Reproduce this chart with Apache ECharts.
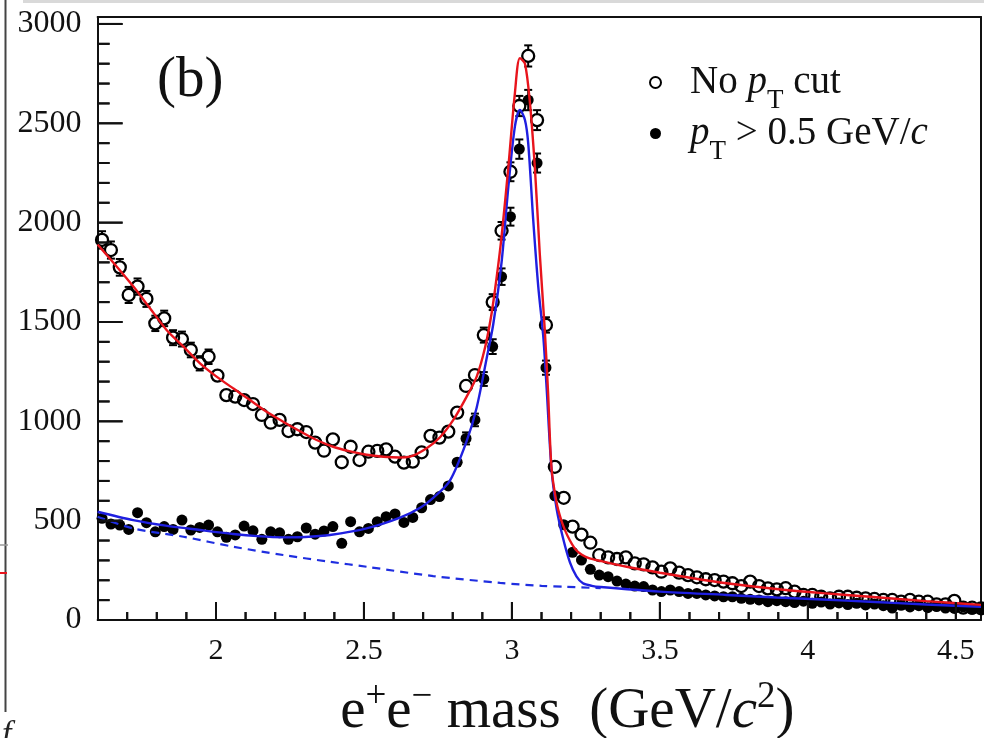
<!DOCTYPE html>
<html>
<head>
<meta charset="utf-8">
<script src="https://cdn.jsdelivr.net/npm/echarts@6/dist/echarts.min.js"></script>
<style>
  html, body { margin: 0; padding: 0; background: #ffffff; }
  #chart { width: 984px; height: 738px; background: #ffffff; }
</style>
</head>
<body>
<div id="chart"></div>
<script>
// Histogram binning of the e+e- invariant mass (GeV/c^2)
const binLow = 1.6;
const binWidth = 0.03;
const massMin = 1.6;
const massMax = 4.585;
const countMax = 3035;

// Counts per bin, no pT cut (open circles)
const openCounts = [
  1913, 1862, 1775, 1636, 1678, 1616, 1493, 1518, 1421, 1414,
  1359, 1292, 1325, 1230, 1132, 1124, 1107, 1087, 1032, 993,
  1007, 951, 960, 946, 893, 852, 909, 794, 872, 805,
  847, 851, 859, 822, 792, 797, 844, 927, 918, 948,
  1044, 1178, 1233, 1434, 1600, 1959, 2256, 2587, 2839, 2516,
  1485, 771, 615, 470, 430, 389, 327, 315, 307, 315,
  285, 280, 265, 243, 260, 238, 226, 215, 205, 201,
  193, 185, 171, 193, 171, 159, 154, 160, 143, 126,
  126, 117, 109, 117, 117, 112, 109, 106, 101, 101,
  92, 101, 92, 92, 79, 79, 96, 62, 62, 59
];

// Counts per bin, pT > 0.5 GeV/c (filled circles)
const filledCounts = [
  512, 483, 478, 456, 540, 490, 444, 470, 456, 503,
  453, 466, 478, 444, 416, 428, 473, 449, 406, 444,
  439, 406, 419, 463, 432, 448, 470, 386, 495, 444,
  461, 495, 520, 534, 491, 516, 565, 606, 621, 675,
  794, 914, 1007, 1213, 1376, 1728, 2030, 2370, 2617, 2300,
  1270, 625, 480, 341, 302, 255, 226, 218, 196, 181,
  171, 168, 151, 143, 151, 143, 134, 134, 126, 121,
  117, 117, 109, 104, 101, 92, 97, 92, 88, 95,
  84, 90, 80, 86, 78, 84, 76, 80, 72, 60,
  74, 66, 72, 62, 68, 60, 58, 66, 54, 60
];

// Fit to the no-cut spectrum (red)
const fitAllMass = [1.6, 1.665, 1.721, 1.777, 1.833, 1.89, 1.946, 2.002, 2.058, 2.115,
  2.171, 2.227, 2.284, 2.34, 2.396, 2.45, 2.509, 2.565, 2.62, 2.655, 2.712, 2.757,
  2.802, 2.847, 2.881, 2.909, 2.931, 2.948, 2.965, 2.988, 3.01, 3.027, 3.044, 3.061,
  3.078, 3.094, 3.111, 3.122, 3.134, 3.151, 3.165, 3.18, 3.196, 3.215, 3.235, 3.26,
  3.3, 3.388, 3.5, 3.612, 3.725, 3.894, 4.05, 4.21, 4.4, 4.585];
const fitAllCounts = [1890, 1778, 1678, 1569, 1460, 1376, 1292, 1225, 1166, 1107,
  1048, 998, 950, 906, 872, 850, 832, 822, 818, 822, 865, 920,
  1007, 1124, 1225, 1370, 1540, 1720, 1930, 2281, 2651, 2828, 2801, 2600,
  2265, 1846, 1460, 1150, 760, 590, 510, 450, 400, 355, 330, 312,
  297, 268, 238, 210, 185, 156, 135, 117, 95, 76];

// Fit to the pT-cut spectrum (blue)
const fitCutMass = [1.6, 1.72, 1.83, 1.946, 2.058, 2.14, 2.227, 2.3, 2.385, 2.509,
  2.622, 2.69, 2.734, 2.79, 2.847, 2.881, 2.915, 2.937, 2.965, 2.988, 3.01, 3.027,
  3.044, 3.055, 3.072, 3.089, 3.106, 3.117, 3.134, 3.151, 3.173, 3.196, 3.218, 3.24,
  3.27, 3.3, 3.5, 3.725, 3.894, 4.05, 4.21, 4.4, 4.585];
const fitCutCounts = [545, 503, 475, 453, 433, 422, 416, 418, 428, 461,
  515, 565, 615, 700, 900, 1070, 1320, 1490, 1800, 2181, 2483, 2567,
  2517, 2400, 2013, 1678, 1426, 1174, 755, 560, 410, 290, 220, 185,
  172, 166, 143, 126, 113, 103, 92, 78, 67];

// Background component of the pT-cut fit (blue dashed)
const bkgMass = [1.6, 1.72, 1.89, 2.058, 2.227, 2.385, 2.509, 2.734, 2.96, 3.1, 3.185, 3.3];
const bkgCounts = [520, 461, 419, 369, 327, 293, 268, 221, 187, 172, 167, 160];

// Axis ticks
const xMajorTicks = [2, 2.5, 3, 3.5, 4, 4.5];
const xMinorTicks = [1.7, 1.8, 1.9, 2.1, 2.2, 2.3, 2.4, 2.6, 2.7, 2.8, 2.9, 3.1, 3.2, 3.3, 3.4,
  3.6, 3.7, 3.8, 3.9, 4.1, 4.2, 4.3, 4.4];
const yMajorTicks = [0, 500, 1000, 1500, 2000, 2500, 3000];
const yMinorTicks = [100, 200, 300, 400, 600, 700, 800, 900, 1100, 1200, 1300, 1400,
  1600, 1700, 1800, 1900, 2100, 2200, 2300, 2400, 2600, 2700, 2800, 2900];

const seriesOpenName = 'No pT cut';
const seriesCutName = 'pT > 0.5 GeV/c';

const serif = '"Liberation Serif", "Times New Roman", serif';
const ink = '#111';

function binned(counts) {
  return counts.map((v, i) => [binLow + binWidth * (i + 0.5), v]);
}
function paired(xs, ys) {
  return xs.map((x, i) => [x, ys[i]]);
}

// Poisson error bars, drawn only outside the marker
function errorBars(radius) {
  return function (params, api) {
    const x = api.value(0);
    const v = api.value(1);
    const e = Math.sqrt(v);
    const c = api.coord([x, v]);
    const hi = api.coord([x, v + e]);
    const lo = api.coord([x, v - e]);
    const st = { stroke: '#000', lineWidth: 2 };
    const kids = [];
    if (c[1] - hi[1] > radius + 1) {
      kids.push({ type: 'line', shape: { x1: c[0], y1: hi[1], x2: c[0], y2: c[1] - radius }, style: st });
      kids.push({ type: 'line', shape: { x1: c[0] - 4, y1: hi[1], x2: c[0] + 4, y2: hi[1] }, style: st });
    }
    if (lo[1] - c[1] > radius + 1) {
      kids.push({ type: 'line', shape: { x1: c[0], y1: c[1] + radius, x2: c[0], y2: lo[1] }, style: st });
      kids.push({ type: 'line', shape: { x1: c[0] - 4, y1: lo[1], x2: c[0] + 4, y2: lo[1] }, style: st });
    }
    return { type: 'group', children: kids };
  };
}

// All inward ROOT-style ticks of the left and bottom frame, drawn as one item
function frameTicks(params, api) {
  const st = { stroke: ink, lineWidth: 2 };
  const kids = [];
  const addX = (values, len) => values.forEach(v => {
    const p = api.coord([v, 0]);
    kids.push({ type: 'line', shape: { x1: p[0], y1: p[1], x2: p[0], y2: p[1] - len }, style: st });
  });
  const addY = (values, len) => values.forEach(v => {
    const p = api.coord([massMin, v]);
    kids.push({ type: 'line', shape: { x1: p[0], y1: p[1], x2: p[0] + len, y2: p[1] }, style: st });
  });
  addX(xMajorTicks, 18);
  addX(xMinorTicks, 8);
  addY(yMajorTicks, 25);
  addY(yMinorTicks, 12);
  return { type: 'group', children: kids };
}

const chart = echarts.init(document.getElementById('chart'), null, { renderer: 'canvas' });

const legendText = {};
legendText[seriesOpenName] = '{g|}{n|No }{i|p}{s|T}{n| cut}';
legendText[seriesCutName] = '{g|}{i|p}{s|T}{n| > 0.5 GeV/}{i|c}';

const nameRich = {
  n: { fontFamily: serif, fontSize: 57, lineHeight: 60, color: ink },
  it: { fontFamily: serif, fontSize: 57, lineHeight: 60, fontStyle: 'italic', color: ink },
  sup: { fontFamily: serif, fontSize: 37, lineHeight: 4, height: 30, verticalAlign: 'top', color: ink }
};

const frameLine = { show: true, onZero: false, lineStyle: { color: ink, width: 2 } };

// Neighbouring panel edge
const panelEdge = [
  { id: 'edgeTop', type: 'rect', shape: { x: 23, y: 0, width: 961, height: 3 }, style: { fill: '#d9d9d9' }, silent: true },
  { id: 'edgeLeft', type: 'line', shape: { x1: 5.5, y1: 0, x2: 5.5, y2: 712 }, style: { stroke: '#444', lineWidth: 2 }, silent: true },
  { id: 'edgeGrey', type: 'line', shape: { x1: 0, y1: 545, x2: 8, y2: 545 }, style: { stroke: '#9a9a9a', lineWidth: 1.5 }, silent: true },
  { id: 'edgeRed', type: 'line', shape: { x1: 0, y1: 573, x2: 7, y2: 573 }, style: { stroke: '#e8141c', lineWidth: 2 }, silent: true },
  { id: 'edgeText', type: 'text', left: 2, top: 718, style: { text: 'f', font: 'italic 34px ' + serif, fill: '#222' }, silent: true }
];

chart.setOption({
  animation: false,
  title: {
    text: '(b)',
    left: 152,
    top: 48,
    textStyle: { fontFamily: serif, fontSize: 57, fontWeight: 'normal', color: ink }
  },
  legend: {
    orient: 'vertical',
    left: 644,
    top: 58,
    itemWidth: 11,
    itemHeight: 11,
    itemGap: 0,
    selectedMode: false,
    data: [
      { name: seriesOpenName, icon: 'circle', itemStyle: { color: '#fff', borderColor: '#000', borderWidth: 2 } },
      { name: seriesCutName, icon: 'circle', itemStyle: { color: '#000' } }
    ],
    formatter: name => legendText[name],
    textStyle: {
      fontFamily: serif, fontSize: 39, color: ink,
      rich: {
        g: { width: 24, lineHeight: 40 },
        n: { fontFamily: serif, fontSize: 39, lineHeight: 40, color: ink },
        i: { fontFamily: serif, fontSize: 39, lineHeight: 40, fontStyle: 'italic', color: ink },
        s: { fontFamily: serif, fontSize: 27, lineHeight: 4, height: 4, verticalAlign: 'bottom', color: ink }
      }
    }
  },
  grid: {
    left: 97.6, right: 3, top: 17, bottom: 118,
    outerBoundsMode: 'none',
    containLabel: false
  },
  xAxis: [
    {
      type: 'value', min: massMin, max: massMax, position: 'bottom',
      axisLine: frameLine,
      axisTick: { show: false },
      axisLabel: { show: true, customValues: xMajorTicks, margin: 16, fontFamily: serif, fontSize: 30, color: ink },
      splitLine: { show: false },
      name: '{n|e}{sup|+}{n|e}{sup|−}{n| mass  (GeV/}{it|c}{sup|2}{n|)}',
      nameLocation: 'middle',
      nameGap: 62,
      nameTextStyle: {
        fontFamily: serif, fontSize: 57, color: ink, padding: [0, 0, 0, 56],
        rich: nameRich
      }
    },
    {
      // top edge of the frame
      type: 'value', min: massMin, max: massMax, position: 'top',
      axisLine: frameLine, axisTick: { show: false }, axisLabel: { show: false }, splitLine: { show: false }
    }
  ],
  yAxis: [
    {
      type: 'value', min: 0, max: countMax, position: 'left',
      axisLine: frameLine,
      axisTick: { show: false },
      axisLabel: {
        show: true, customValues: yMajorTicks, margin: 16, fontFamily: serif, fontSize: 32, color: ink,
        formatter: v => String(v)
      },
      splitLine: { show: false }
    },
    {
      // right edge of the frame
      type: 'value', min: 0, max: countMax, position: 'right',
      axisLine: frameLine, axisTick: { show: false }, axisLabel: { show: false }, splitLine: { show: false }
    }
  ],
  series: [
    {
      name: seriesCutName, type: 'scatter', data: binned(filledCounts),
      symbol: 'circle', symbolSize: 11, z: 2,
      itemStyle: { color: '#000', opacity: 1 }
    },
    {
      name: 'cutErrors', type: 'custom', data: binned(filledCounts),
      renderItem: errorBars(5), z: 2, silent: true
    },
    {
      name: seriesOpenName, type: 'scatter', data: binned(openCounts),
      symbol: 'circle', symbolSize: 12, z: 3,
      itemStyle: { color: 'rgba(0,0,0,0)', borderColor: '#000', borderWidth: 2.3, opacity: 1 }
    },
    {
      name: 'openErrors', type: 'custom', data: binned(openCounts),
      renderItem: errorBars(6), z: 3, silent: true
    },
    {
      name: 'bkgFit', type: 'line', data: paired(bkgMass, bkgCounts),
      smooth: 0.3, showSymbol: false, z: 4,
      lineStyle: { color: '#1f2ee0', width: 2.2, type: [8, 6] }
    },
    {
      name: 'cutFit', type: 'line', data: paired(fitCutMass, fitCutCounts),
      smooth: 0.3, showSymbol: false, z: 5,
      lineStyle: { color: '#1f1fe0', width: 2.4 }
    },
    {
      name: 'allFit', type: 'line', data: paired(fitAllMass, fitAllCounts),
      smooth: 0.3, showSymbol: false, z: 6,
      lineStyle: { color: '#e8141c', width: 2.4 }
    },
    {
      // one anchor item in the middle of the frame carries every tick mark
      name: 'frameTicks', type: 'custom', silent: true, clip: false, z: 8,
      data: [[(massMin + massMax) / 2, countMax / 2]],
      renderItem: frameTicks
    }
  ],
  graphic: panelEdge
});

// Second pass of the same tick marks on their own layer, positioned through the grid's scales
const ticks = [];
const tickStyle = { stroke: ink, lineWidth: 2 };
function pixel(x, y) {
  const p = chart.convertToPixel({ gridIndex: 0 }, [x, y]);
  return (p && isFinite(p[0]) && isFinite(p[1])) ? p : null;
}
function xTicks(values, length, tag) {
  values.forEach((v, i) => {
    const p = pixel(v, 0);
    if (p) ticks.push({ id: tag + i, type: 'line', zlevel: 1, z: 100, silent: true,
      shape: { x1: p[0], y1: p[1], x2: p[0], y2: p[1] - length }, style: tickStyle });
  });
}
function yTicks(values, length, tag) {
  values.forEach((v, i) => {
    const p = pixel(massMin, v);
    if (p) ticks.push({ id: tag + i, type: 'line', zlevel: 1, z: 100, silent: true,
      shape: { x1: p[0], y1: p[1], x2: p[0] + length, y2: p[1] }, style: tickStyle });
  });
}
xTicks(xMajorTicks, 18, 'xMaj');
xTicks(xMinorTicks, 8, 'xMin');
yTicks(yMajorTicks, 25, 'yMaj');
yTicks(yMinorTicks, 12, 'yMin');
chart.setOption({ graphic: panelEdge.concat(ticks) });
</script>
</body>
</html>
